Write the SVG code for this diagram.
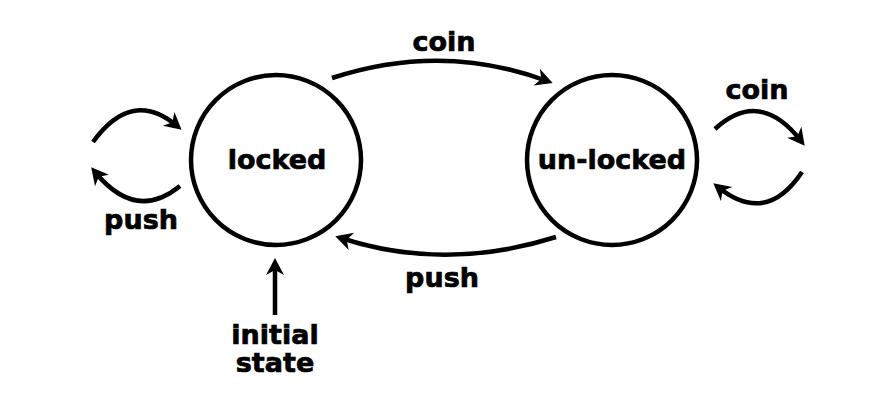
<svg xmlns="http://www.w3.org/2000/svg" width="880" height="406" viewBox="0 0 880 406">
<style>
.st{fill:#fff;stroke:#000;stroke-width:4.5}
.lb{font-family:"DejaVu Sans",Verdana,sans-serif;font-weight:bold;fill:#000;stroke:#000;stroke-width:0.7;text-anchor:middle;font-size:27px}
.ed{fill:none;stroke:#000;stroke-width:4.5;marker-end:url(#ah)}
</style>
<defs>
<marker id="ah" markerUnits="userSpaceOnUse" viewBox="-12 -10 20 20" refX="0" refY="0" markerWidth="20" markerHeight="20" orient="auto">
<path d="M6,0 L-11,-9 L-6,0 L-11,9 Z" fill="#000"/>
</marker>
</defs>
<rect width="880" height="406" fill="#fff"/>
<g id="edges">
<path class="ed" d="M332,78 Q442,42 547,81"/>
<path class="ed" d="M556,237 Q445,272 341,238"/>
<path class="ed" d="M93,142 Q132,88 177,126"/>
<path class="ed" d="M180,186 Q136,222 95,172"/>
<path class="ed" d="M715,129 Q760,88 801,141"/>
<path class="ed" d="M802,172 Q766,226 718,187"/>
<path class="ed" d="M275,315 L275,264"/>
</g>
<g id="locked">
<circle class="st" cx="276" cy="160" r="85"/>
<text class="lb" x="277" y="169">locked</text>
</g>
<g id="unlocked">
<circle class="st" cx="612" cy="160" r="85"/>
<text class="lb" x="612" y="169">un-locked</text>
</g>
<g id="labels">
<text class="lb" x="444" y="51">coin</text>
<text class="lb" x="442" y="287">push</text>
<text class="lb" x="141" y="229">push</text>
<text class="lb" x="757" y="99">coin</text>
<text class="lb" x="275" y="344">initial</text>
<text class="lb" x="275" y="372">state</text>
</g>
</svg>
